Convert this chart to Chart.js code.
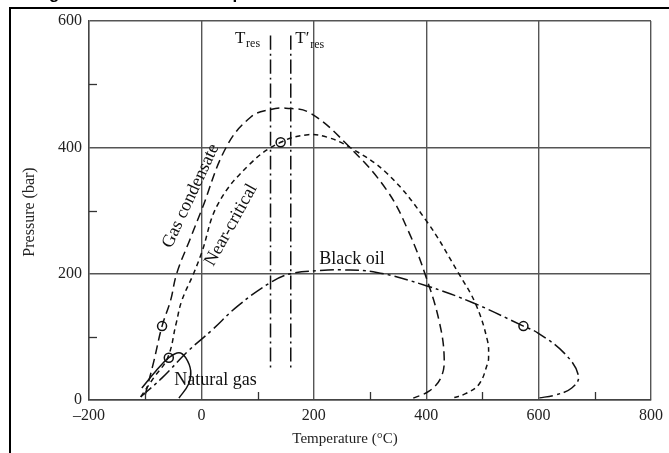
<!DOCTYPE html>
<html>
<head>
<meta charset="utf-8">
<script src="https://cdn.jsdelivr.net/npm/chart.js@4.4.1/dist/chart.umd.min.js"></script>
<style>
  html, body { margin: 0; padding: 0; background: #fff; }
  #wrap { position: relative; width: 669px; height: 453px; }
</style>
</head>
<body>
<div id="wrap"><canvas id="chart" width="669" height="453"></canvas></div>
<script>
// phase envelopes (T in degC, P in bar)
var gasCondT = [-100, -85, -70, -55, -44, -20, 0, 44, 88, 123, 150, 194, 264, 330, 368, 400, 423, 432, 426, 405, 377];
var gasCondP = [8, 60, 117, 157, 200, 255, 300, 400, 448, 460, 462, 454, 400, 332, 268, 194, 125, 67, 35, 14, 3];

var nearCritT = [-108, -85, -60, -45, -35, -14, 0, 30, 88, 141, 190, 224, 264, 330, 400, 458, 488, 509, 511, 509, 494, 470, 447];
var nearCritP = [5, 35, 67, 121, 157, 200, 232, 311, 375, 408, 420, 416, 400, 359, 284, 200, 152, 94, 67, 57, 25, 10, 3];

var blackOilT = [-108, -70, -23, 18, 65, 123, 159, 211, 250, 312, 400, 483, 573, 599, 647, 671, 659, 630, 599];
var blackOilP = [5, 35, 78, 110, 149, 186, 200, 205, 206, 202, 181, 154, 117, 106, 73, 38, 19, 8, 3];

var natGasT = [-106, -81, -58, -40, -28, -19, -23, -40];
var natGasP = [19, 46, 67, 75, 67, 46, 25, 3];

var critT = [-70, -58, 141, 573];
var critP = [117, 67, 408, 117];

var resT = [123, 159];       // T_res and T'_res
var resP = [577, 50];        // vertical extent

var xTicks = [-200, 0, 200, 400, 600, 800];
var yTicks = [0, 200, 400, 600];
var xMinor = [-100, 100, 300, 500, 700];
var yMinor = [100, 300, 500];

function pts(t, p) {
  return t.map(function (v, i) { return { x: v, y: p[i] }; });
}

var ink = '#111';
var serif = "'Liberation Serif', 'DejaVu Serif', serif";

function curve(label, t, p, dash) {
  return {
    label: label, data: pts(t, p), showLine: true,
    borderColor: ink, borderWidth: 1.5, borderDash: dash,
    pointRadius: 0, tension: 0.4, fill: false
  };
}

var datasets = [
  curve('Gas condensate', gasCondT, gasCondP, [9, 5]),
  curve('Near-critical', nearCritT, nearCritP, [5, 4]),
  curve('Black oil', blackOilT, blackOilP, [14, 4, 3, 4]),
  curve('Natural gas', natGasT, natGasP, []),
  curve('Tres', [resT[0], resT[0]], resP, [14, 4, 2, 4]),
  curve("T'res", [resT[1], resT[1]], resP, [14, 4, 2, 4]),
  {
    label: 'critical', data: pts(critT, critP), showLine: false,
    pointStyle: 'circle', pointRadius: 4.5, borderColor: ink, borderWidth: 1.5,
    backgroundColor: 'rgba(0,0,0,0)'
  }
];

// outer frame, cut-off caption, axis titles, minor ticks
var decor = {
  id: 'decor',
  beforeDraw: function (chart) {
    var c = chart.ctx;
    c.save();
    c.fillStyle = '#fff';
    c.fillRect(0, 0, chart.width, chart.height);
    c.fillStyle = '#000';
    c.font = "bold 17px 'Liberation Sans', Arial, sans-serif";
    c.textAlign = 'left';
    c.textBaseline = 'alphabetic';
    c.fillText('Figure 1.2  Phase envelopes of reservoir fluids', 34, -1);
    c.strokeStyle = '#000';
    c.lineWidth = 2;
    c.strokeRect(10, 8, 700, 500);
    c.restore();
  },
  afterDraw: function (chart) {
    var c = chart.ctx, xs = chart.scales.x, ys = chart.scales.y;
    c.save();
    c.strokeStyle = '#333';
    c.lineWidth = 1.3;
    xMinor.forEach(function (v) {
      var px = Math.round(xs.getPixelForValue(v)) + 0.5;
      c.beginPath(); c.moveTo(px, ys.bottom); c.lineTo(px, ys.bottom - 8); c.stroke();
    });
    yMinor.forEach(function (v) {
      var py = Math.round(ys.getPixelForValue(v)) + 0.5;
      c.beginPath(); c.moveTo(xs.left, py); c.lineTo(xs.left + 8, py); c.stroke();
    });
    c.fillStyle = '#222';
    c.textAlign = 'center';
    c.textBaseline = 'middle';
    c.font = '15px ' + serif;
    c.fillText('Temperature (\u00B0C)', 345, 439);
    c.font = '16px ' + serif;
    c.translate(30, 212);
    c.rotate(-Math.PI / 2);
    c.fillText('Pressure (bar)', 0, 0);
    c.restore();
  }
};

// text labels on the curves
var notes = [
  { text: 'Gas condensate', t: -19, p: 323, rot: -65 },
  { text: 'Near-critical', t: 53, p: 277, rot: -61 },
  { text: 'Black oil', t: 268, p: 223, rot: 0 },
  { text: 'Natural gas', t: 25, p: 32, rot: 0 }
];

var labels = {
  id: 'labels',
  afterDatasetsDraw: function (chart) {
    var c = chart.ctx, xs = chart.scales.x, ys = chart.scales.y;
    c.save();
    c.fillStyle = ink;
    c.textAlign = 'center';
    c.textBaseline = 'middle';
    c.font = '18px ' + serif;
    notes.forEach(function (n) {
      c.save();
      c.translate(xs.getPixelForValue(n.t), ys.getPixelForValue(n.p));
      c.rotate(n.rot * Math.PI / 180);
      c.fillText(n.text, 0, 0);
      c.restore();
    });
    // T_res labels
    c.textAlign = 'left';
    c.textBaseline = 'alphabetic';
    var y0 = ys.getPixelForValue(565);
    var x1 = xs.getPixelForValue(60);
    c.font = '17px ' + serif;
    c.fillText('T', x1, y0);
    c.font = '12px ' + serif;
    c.fillText('res', x1 + 11, y0 + 4);
    var x2 = xs.getPixelForValue(167);
    c.font = '17px ' + serif;
    c.fillText('T\u2032', x2, y0);
    c.font = '12px ' + serif;
    c.fillText('res', x2 + 15, y0 + 5);
    c.restore();
  }
};

new Chart(document.getElementById('chart'), {
  type: 'scatter',
  data: { datasets: datasets },
  options: {
    responsive: false,
    devicePixelRatio: 1,
    animation: false,
    layout: { padding: { left: 0, right: 12, top: 21, bottom: 0 } },
    plugins: { legend: { display: false }, tooltip: { enabled: false } },
    scales: {
      x: {
        type: 'linear', min: -200, max: 800,
        afterBuildTicks: function (s) { s.ticks = xTicks.map(function (v) { return { value: v }; }); },
        afterFit: function (s) { s.height = 53; },
        ticks: {
          color: '#222', font: { family: serif, size: 16 }, padding: 6, maxRotation: 0,
          callback: function (v) { return String(v).replace('-', '\u2013'); }
        },
        grid: { color: '#555', lineWidth: 1.4, drawTicks: false },
        border: { color: '#444', width: 1.4 }
      },
      y: {
        type: 'linear', min: 0, max: 600,
        afterBuildTicks: function (s) { s.ticks = yTicks.map(function (v) { return { value: v }; }); },
        afterFit: function (s) { s.width = 89; },
        ticks: { color: '#222', font: { family: serif, size: 16 }, padding: 7 },
        grid: { color: '#555', lineWidth: 1.4, drawTicks: false },
        border: { color: '#444', width: 1.4 }
      }
    }
  },
  plugins: [decor, labels]
});
</script>
</body>
</html>
